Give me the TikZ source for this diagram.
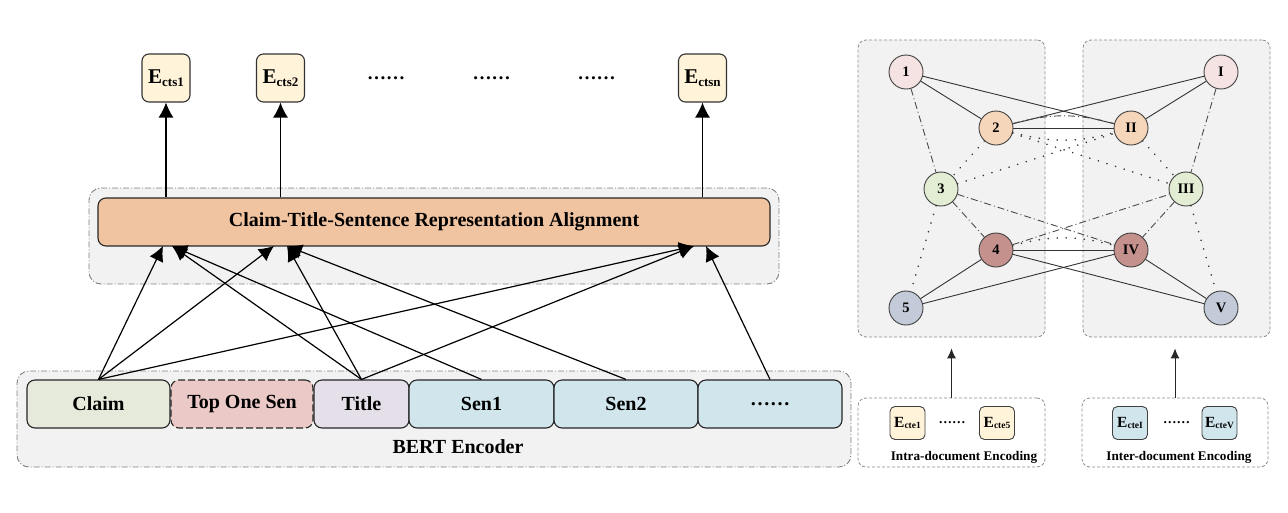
\documentclass[tikz,border=0pt]{standalone}
\usepackage{fontspec}
\setmainfont{Liberation Serif}
\usetikzlibrary{arrows.meta,calc}
\definecolor{ecream}{HTML}{FFF4DA}
\definecolor{peachc}{HTML}{F1C4A1}
\definecolor{panelc}{HTML}{F2F2F2}
\definecolor{claimc}{HTML}{E6EADB}
\definecolor{topc}{HTML}{EBC9C7}
\definecolor{titlec}{HTML}{E5DFEA}
\definecolor{senc}{HTML}{D0E5EC}
\definecolor{nA}{HTML}{F5E2E2}
\definecolor{nB}{HTML}{F6D6BA}
\definecolor{nC}{HTML}{E3EDD4}
\definecolor{nD}{HTML}{C4918D}
\definecolor{nE}{HTML}{C3CAD8}
\newcommand\Ebig[1]{{\fontsize{21}{21}\selectfont E}\raisebox{-2.5pt}{\fontsize{13}{13}\selectfont #1}}
\newcommand\Esmall[1]{{\fontsize{15.5}{15.5}\selectfont E}\raisebox{-1.5pt}{\fontsize{9.5}{9.5}\selectfont #1}}
\tikzset{
  every node/.style={font=\bfseries},
  cont/.style={draw=black!50, fill=panelc, line width=0.9pt, rounded corners=12pt,
    dash pattern=on 6pt off 2pt on 1pt off 2pt, inner sep=0pt},
  tok/.style={draw=black!85, line width=1.1pt, rounded corners=8pt, minimum height=48pt,
    inner sep=0pt, font=\bfseries\fontsize{20}{20}\selectfont},
  ebox/.style={draw=black!80, line width=1.1pt, rounded corners=7pt, fill=ecream,
    minimum width=48pt, minimum height=48pt, inner sep=0pt},
  sbox/.style={draw=black!75, line width=0.9pt, rounded corners=5pt,
    minimum width=35pt, minimum height=33pt, inner sep=0pt},
  dotstxt/.style={inner sep=0pt, font=\bfseries\fontsize{19}{19}\selectfont},
  arr/.style={-{Latex[length=15pt,width=15pt]}, line width=1.2pt, draw=black},
  sarr/.style={-{Latex[length=10pt,width=9pt]}, line width=0.9pt, draw=black!85},
  gpanel/.style={draw=black!45, fill=panelc, line width=0.8pt, rounded corners=8pt,
    dash pattern=on 3pt off 2pt, inner sep=0pt, minimum width=187pt, minimum height=297pt},
  bpanel/.style={draw=black!45, fill=white, line width=0.8pt, rounded corners=8pt,
    dash pattern=on 3pt off 2pt, inner sep=0pt, minimum height=69pt},
  gnode/.style={circle, draw=black!75, line width=0.9pt, minimum size=34pt, inner sep=0pt,
    font=\bfseries\fontsize{14.5}{14.5}\selectfont},
  gsolid/.style={draw=black!80, line width=0.9pt},
  gdashdot/.style={draw=black!70, line width=0.9pt, dash pattern=on 7pt off 3pt on 1pt off 3pt},
  gdot/.style={draw=black!80, line width=1.8pt, dash pattern=on 0.01pt off 9pt, line cap=round},
  lbl/.style={inner sep=0pt, anchor=base, font=\bfseries\fontsize{20}{20}\selectfont},
  slbl/.style={inner sep=0pt, anchor=base, font=\bfseries\fontsize{13.2}{13.2}\selectfont},
}
\begin{document}
\begin{tikzpicture}[x=1pt,y=1pt]
\useasboundingbox (0,0) rectangle (1288,-512);

% ---------- left part ----------
\node[cont, minimum width=690pt, minimum height=96pt] (acont) at (434,-236) {};
\node[cont, minimum width=834pt, minimum height=96pt] (bcont) at (434,-419) {};
\node[tok, fill=peachc, minimum width=672pt] (align) at (434,-222) {Claim-Title-Sentence Representation Alignment};

\node[tok, fill=claimc, minimum width=143pt] (claim) at (98.5,-404) {Claim};
\node[tok, fill=topc, dash pattern=on 7pt off 3pt, minimum width=142pt] (top) at (242,-404) {Top One Sen};
\node[tok, fill=titlec, minimum width=95pt] (title) at (361.5,-404) {Title};
\node[tok, fill=senc, minimum width=145pt] (sen1) at (481.5,-404) {Sen1};
\node[tok, fill=senc, minimum width=144pt] (sen2) at (626,-404) {Sen2};
\node[tok, fill=senc, minimum width=144pt] (sdots) at (770,-404) {……};
\node[lbl] (bert) at (458,-453) {BERT Encoder};

\node[ebox] (e1) at (166,-78) {\Ebig{cts1}};
\node[ebox] (e2) at (280.5,-78) {\Ebig{cts2}};
\node[ebox] (en) at (702.5,-78) {\Ebig{ctsn}};
\node[dotstxt] (d1) at (386,-78) {……};
\node[dotstxt] (d2) at (491.5,-78) {……};
\node[dotstxt] (d3) at (596.5,-78) {……};

\draw[arr] (align.north -| e1) -- (e1.south);
\draw[arr] (align.north -| e2) -- (e2.south);
\draw[arr] (align.north -| en) -- (en.south);

\coordinate (t1a) at (163,-246);
\coordinate (t1b) at (172,-246);
\coordinate (t2a) at (274,-246);
\coordinate (t2b) at (287,-246);
\coordinate (t3a) at (694,-246);
\coordinate (t3b) at (706,-246);
\draw[arr] (claim.north) -- (t1a);
\draw[arr] (claim.north) -- (t2a);
\draw[arr] (claim.north) -- (t3a);
\draw[arr] (title.north) -- (t1b);
\draw[arr] (title.north) -- (t2b);
\draw[arr] (title.north) -- (t3a);
\draw[arr] (sen1.north) -- (t1b);
\draw[arr] (sen2.north) -- (t2b);
\draw[arr] (sdots.north) -- (t3b);

% ---------- right part ----------
\node[gpanel] (lpanel) at (951.5,-188.5) {};
\node[gpanel] (rpanel) at (1176.5,-188.5) {};

\node[bpanel, minimum width=187pt] (intra) at (951.5,-432.5) {};
\node[bpanel, minimum width=186pt] (inter) at (1175,-432.5) {};
\node[sbox, fill=ecream] (c1) at (907.5,-423) {\Esmall{cte1}};
\node[sbox, fill=ecream] (c5) at (997,-423) {\Esmall{cte5}};
\node[sbox, fill=senc] (cI) at (1130,-423) {\Esmall{cteI}};
\node[sbox, fill=senc] (cV) at (1219.5,-423) {\Esmall{cteV}};
\node[inner sep=0pt, font=\bfseries\fontsize{13.5}{13.5}\selectfont] (cd1) at (952,-423) {……};
\node[inner sep=0pt, font=\bfseries\fontsize{13.5}{13.5}\selectfont] (cd2) at (1176.5,-423) {……};
\node[slbl] (intral) at (964,-460) {Intra-document Encoding};
\node[slbl] (interl) at (1179,-460) {Inter-document Encoding};

\draw[sarr, shorten >=11pt] (intra.north) -- (intra.north |- lpanel.south);
\draw[sarr, shorten >=11pt] (inter.north) -- (inter.north |- rpanel.south);

\node[gnode, fill=nA] (n1) at (906,-72) {1};
\node[gnode, fill=nB] (n2) at (996,-128) {2};
\node[gnode, fill=nC] (n3) at (941,-189) {3};
\node[gnode, fill=nD] (n4) at (996,-250) {4};
\node[gnode, fill=nE] (n5) at (906,-308) {5};
\node[gnode, fill=nA] (nI) at (1221,-72) {I};
\node[gnode, fill=nB] (nII) at (1131,-128) {II};
\node[gnode, fill=nC] (nIII) at (1186,-189) {III};
\node[gnode, fill=nD] (nIV) at (1131,-250) {IV};
\node[gnode, fill=nE] (nV) at (1221,-308) {V};

% solid edges
\draw[gsolid] (n1) -- (n2);
\draw[gsolid] (n1) -- (nII);
\draw[gsolid] (n2) -- (nI);
\draw[gsolid] (nI) -- (nII);
\draw[gsolid] (n2) -- (nII);
\draw[gsolid] (n4) -- (nIV);
\draw[gsolid] (n4) -- (n5);
\draw[gsolid] (n5) -- (nIV);
\draw[gsolid] (n4) -- (nV);
\draw[gsolid] (nIV) -- (nV);
% dash-dot edges
\draw[gdashdot] (n1) -- (n3);
\draw[gdashdot] (n3) -- (n4);
\draw[gdashdot] (nI) -- (nIII);
\draw[gdashdot] (nIII) -- (nIV);
\draw[gdashdot] (n3) -- (nIV);
\draw[gdashdot] (n4) -- (nIII);
\draw[gdashdot] (n2) to[bend left=15] (nII);
% dotted edges
\draw[gdot] (n2) -- (n3);
\draw[gdot] (n3) -- (n5);
\draw[gdot] (nII) -- (nIII);
\draw[gdot] (nIII) -- (nV);
\draw[gdot] (n3) -- (nII);
\draw[gdot] (n2) -- (nIII);
\draw[gdot] (n2) to[bend right=15] (nII);
\draw[gdot] (n4) to[bend left=15] (nIV);
\end{tikzpicture}
\end{document}
